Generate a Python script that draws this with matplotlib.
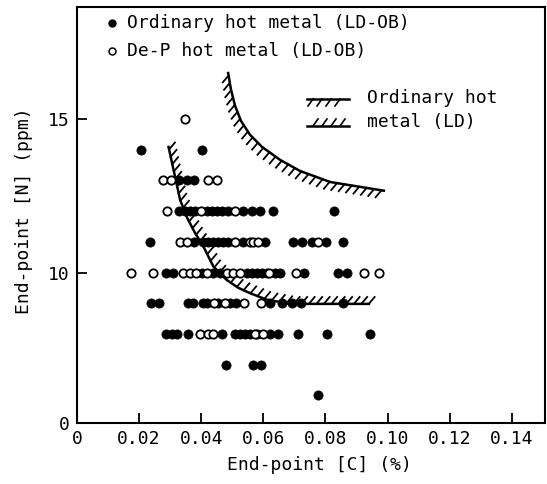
import numpy as np
import matplotlib
matplotlib.use("Agg")
import matplotlib.pyplot as plt

plt.rcParams['font.family'] = ['DejaVu Sans Mono']
plt.rcParams['font.size'] = 13

# filled dots: ordinary hot metal (LD-OB), open: De-P hot metal (LD-OB)
ord_c = [0.0205, 0.0404,
         0.0329, 0.0353, 0.0377,
         0.0329, 0.0348, 0.0364, 0.0380, 0.0418, 0.0434, 0.0450, 0.0466, 0.0487,
         0.0535, 0.0563, 0.0589, 0.0632, 0.0828,
         0.0235, 0.0377, 0.0407, 0.0423, 0.0439, 0.0455, 0.0471, 0.0487, 0.0534,
         0.0605, 0.0697, 0.0724, 0.0756, 0.0802, 0.0858,
         0.0286, 0.0310, 0.0402, 0.0439, 0.0461, 0.0547, 0.0563, 0.0579, 0.0595,
         0.0611, 0.0638, 0.0654, 0.0731, 0.0842, 0.0869,
         0.0238, 0.0265, 0.0358, 0.0375, 0.0405, 0.0420, 0.0455, 0.0493, 0.0512,
         0.0622, 0.0659, 0.0691, 0.0720, 0.0856,
         0.0287, 0.0305, 0.0321, 0.0358, 0.0466, 0.0509, 0.0525, 0.0541, 0.0557,
         0.0579, 0.0622, 0.0648, 0.0713, 0.0804, 0.0944,
         0.0479, 0.0566, 0.0593,
         0.0775]
ord_n = [14] * 2 + [13] * 3 + [12] * 14 + [11] * 15 + [10] * 15 + [9] * 14 + \
        [8] * 15 + [7] * 3 + [6]

dep_c = [0.0348,
         0.0278, 0.0303, 0.0423, 0.0450,
         0.0291, 0.0398, 0.0510,
         0.0332, 0.0355, 0.0509, 0.0557, 0.0568, 0.0584, 0.0777,
         0.0174, 0.0246, 0.0342, 0.0364, 0.0383, 0.0420, 0.0482, 0.0503, 0.0525,
         0.0619, 0.0705, 0.0925, 0.0973,
         0.0441, 0.0477, 0.0538, 0.0592,
         0.0396, 0.0423, 0.0439, 0.0573, 0.0599]
dep_n = [15] + [13] * 4 + [12] * 3 + [11] * 7 + [10] * 13 + [9] * 4 + [8] * 5

# boundaries of ordinary hot metal (LD) band
low_c = [0.0294, 0.0332, 0.0353, 0.0380, 0.0407, 0.0439, 0.0482, 0.0520,
         0.0557, 0.0610, 0.0686, 0.0944]
low_n = [14.13, 12.37, 11.82, 11.29, 10.85, 10.20, 9.76, 9.50,
         9.33, 9.12, 8.98, 8.98]
up_c = [0.0486, 0.0496, 0.0509, 0.0528, 0.0557, 0.0596, 0.0654, 0.0718,
        0.0815, 0.0992]
up_n = [16.54, 15.95, 15.43, 14.94, 14.49, 14.09, 13.67, 13.31,
        12.95, 12.66]

xticks = [0, 0.02, 0.04, 0.06, 0.08, 0.10, 0.12, 0.14]
xlabels = ['0', '0.02', '0.04', '0.06', '0.08', '0.10', '0.12', '0.14']
yticks = [5.1, 10, 15]
ylabels = ['0', '10', '15']

fig = plt.figure(figsize=(5.47, 4.84), dpi=100)
ax = fig.add_axes([77 / 547, 1 - 423 / 484, 468 / 547, 416 / 484])
ax.set_xlim(0, 0.1507)
ax.set_ylim(5.1, 18.65)


def hatched(xs, ys, sign, step=7.5, length=9.0, ang=50):
    # curve plus short slanted strokes on one side, built in pixel space
    ax.plot(xs, ys, color='black', lw=1.8, solid_capstyle='butt')
    pts = ax.transData.transform(np.column_stack([xs, ys]))
    seg = np.hypot(*np.diff(pts, axis=0).T)
    s = np.concatenate([[0], np.cumsum(seg)])
    d = np.array([np.cos(np.radians(ang)), np.sin(np.radians(ang))]) * length * sign
    inv = ax.transData.inverted()
    for t in np.arange(step / 2, s[-1], step):
        p = np.array([np.interp(t, s, pts[:, 0]), np.interp(t, s, pts[:, 1])])
        a, b = inv.transform([p, p + d])
        ax.plot([a[0], b[0]], [a[1], b[1]], color='black', lw=1.3)


hatched(low_c, low_n, 1)
hatched(up_c, up_n, -1)

ax.scatter(ord_c, ord_n, s=44, c='black', edgecolors='black', linewidths=0.5, zorder=3)
ax.scatter(dep_c, dep_n, s=36, facecolors='white', edgecolors='black', linewidths=1.3, zorder=4)

# legend
ax.plot([35 / 468], [1 - 16 / 416], 'o', ms=5, color='black', transform=ax.transAxes)
ax.plot([35 / 468], [1 - 44 / 416], 'o', ms=5, mfc='white', mec='black', mew=1.1,
        transform=ax.transAxes)
ax.text(50 / 468, 1 - 16 / 416, 'Ordinary hot metal (LD-OB)', transform=ax.transAxes,
        va='center', ha='left')
ax.text(50 / 468, 1 - 44 / 416, 'De-P hot metal (LD-OB)', transform=ax.transAxes,
        va='center', ha='left')

# legend sample for the LD band
tx = ax.transAxes
for yy, sg in ((1 - 92 / 416, -1), (1 - 119 / 416, 1)):
    ax.plot([230 / 468, 272 / 468], [yy, yy], color='black', lw=1.8, transform=tx)
    for x0 in np.arange(236, 272, 9):
        ax.plot([x0 / 468, (x0 + 5 * sg) / 468], [yy, yy + sg * 7 / 416],
                color='black', lw=1.2, transform=tx)
ax.text(290 / 468, 1 - 91 / 416, 'Ordinary hot', transform=tx, va='center', ha='left')
ax.text(290 / 468, 1 - 115 / 416, 'metal (LD)', transform=tx, va='center', ha='left')

ax.set_xticks(xticks)
ax.set_xticklabels(xlabels)
ax.set_yticks(yticks)
ax.set_yticklabels(ylabels)
ax.tick_params(direction='in', length=7, width=1.3, pad=5)
for sp in ax.spines.values():
    sp.set_linewidth(1.5)

ax.set_xlabel('End-point [C] (%)')
ax.set_ylabel('End-point [N] (ppm)')
ax.xaxis.set_label_coords((319 - 77) / 468, -(456 - 423) / 416)
ax.yaxis.set_label_coords(-(77 - 33) / 468, 0.51)

fig.savefig('out.png', dpi=100)
